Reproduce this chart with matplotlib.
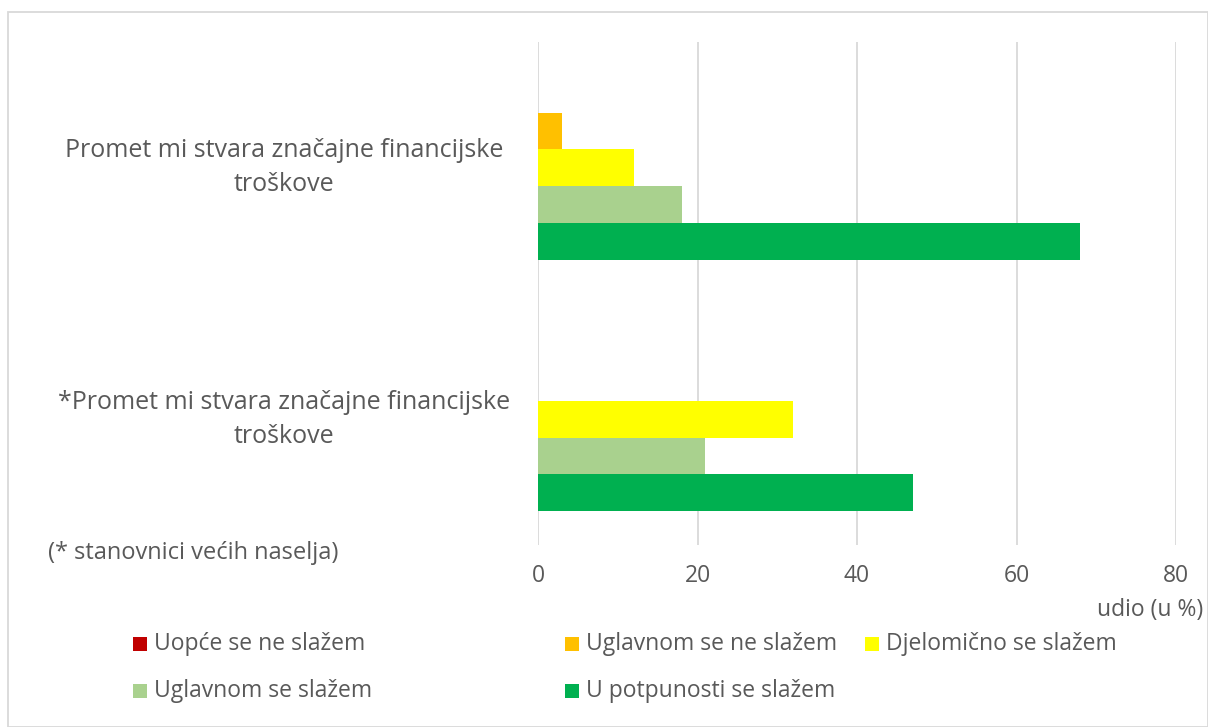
import matplotlib
matplotlib.use("Agg")
import matplotlib.pyplot as plt
from matplotlib.patches import Rectangle
import matplotlib.transforms as mtransforms

plt.rcParams['font.family'] = ['Open Sans', 'DejaVu Sans']

categories = ["Promet mi stvara značajne financijske\ntroškove",
              "*Promet mi stvara značajne financijske\ntroškove"]
series_names = ["Uopće se ne slažem", "Uglavnom se ne slažem", "Djelomično se slažem",
                "Uglavnom se slažem", "U potpunosti se slažem"]
values = [
    [0, 0],     # Uopće se ne slažem
    [3, 0],     # Uglavnom se ne slažem
    [12, 32],   # Djelomično se slažem
    [18, 21],   # Uglavnom se slažem
    [68, 47],   # U potpunosti se slažem
]
colors = ["#C00000", "#FFC000", "#FFFF00", "#A9D18E", "#00B050"]
xticks = [0, 20, 40, 60, 80]
note = "(* stanovnici većih naselja)"
xlabel = "udio (u %)"

txt = "#595959"
W, H = 1208, 727
fig = plt.figure(figsize=(W / 100, H / 100), dpi=100)
ax = fig.add_axes([538 / W, 1 - 545 / H, (1176 - 538) / W, (545 - 42) / H])

n = len(series_names)
h = 0.146
for i, (name, vals, c) in enumerate(zip(series_names, values, colors)):
    pos = [k + (i - (n - 1) / 2) * h for k in range(len(categories))]
    ax.barh(pos, vals, height=h, color=c, label=name, zorder=3)

ax.set_ylim(len(categories) - 0.5, -0.5)
ax.set_xlim(0, 80)
ax.set_xticks(xticks)
ax.set_xticklabels([str(t) for t in xticks], fontsize=16.5, color=txt)
ax.tick_params(axis='x', length=0, pad=14)
ax.set_yticks([])
for s in ax.spines.values():
    s.set_visible(False)
ax.grid(axis='x', color="#D9D9D9", linewidth=1.3, zorder=0)

trans = mtransforms.blended_transform_factory(fig.transFigure, ax.transData)
for k, cat in enumerate(categories):
    ax.text(284 / W, k, cat, transform=trans, ha='center', va='center',
            fontsize=18, color=txt, linespacing=1.45)

fig.text(48 / W, 1 - 553 / H, note, ha='left', va='center', fontsize=17, color=txt)
fig.text(1150 / W, 1 - 610 / H, xlabel, ha='center', va='center', fontsize=16.5, color=txt)

leg_pos = [(133, 644), (565, 644), (865, 644), (133, 691), (565, 691)]
for (x, y), name, c in zip(leg_pos, series_names, colors):
    fig.patches.append(Rectangle((x / W, 1 - (y + 7) / H), 14 / W, 14 / H,
                                 transform=fig.transFigure, facecolor=c, edgecolor='none'))
    fig.text((x + 21) / W, 1 - y / H, name, ha='left', va='center', fontsize=16.5, color=txt)

fig.patches.append(Rectangle((8 / W, 0), 1 - 8 / W - 0.5 / W, 1 - 12 / H,
                             transform=fig.transFigure, facecolor='none',
                             edgecolor="#D9D9D9", linewidth=1.3))

fig.savefig("out.png", dpi=100)
